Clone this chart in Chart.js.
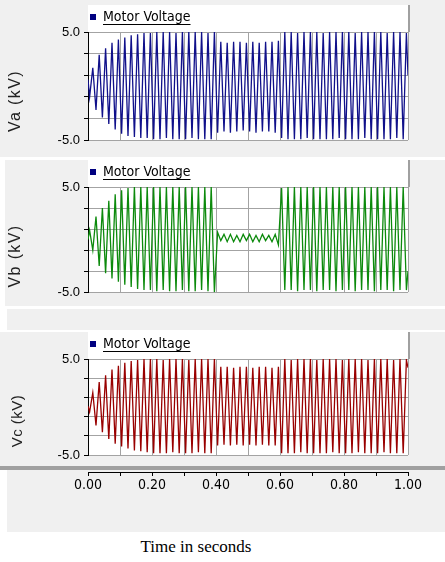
<!DOCTYPE html>
<html>
<head>
<meta charset="utf-8">
<script src="https://cdn.jsdelivr.net/npm/chart.js@4.4.0/dist/chart.umd.min.js"></script>
<style>
  body { margin: 0; background: #fff; width: 445px; height: 562px; position: relative; overflow: hidden; }
  .bg { position: absolute; background: #f0f0f0; }
  canvas { position: absolute; left: 0; }
  .ytitle { position: absolute; font-family: 'Liberation Sans', Arial, sans-serif; color: #222;
            transform: translate(-50%, -50%) rotate(-90deg); white-space: nowrap; }
  #xtitle { position: absolute; left: 196px; top: 547px; transform: translate(-50%, -50%);
            font-family: 'Liberation Serif', 'Times New Roman', serif; font-size: 17px; color: #000; white-space: nowrap; }
</style>
</head>
<body>
<div class="bg" style="left:0;top:0;width:445px;height:157px"></div>
<div class="bg" style="left:5px;top:160px;width:440px;height:146px"></div>
<div class="bg" style="left:7px;top:309px;width:438px;height:21px"></div>
<div class="bg" style="left:0;top:332px;width:445px;height:134px"></div>
<div class="bg" style="left:0;top:466px;width:445px;height:4px;background:#a0a0a0"></div>
<div class="bg" style="left:7px;top:470px;width:438px;height:62px"></div>

<canvas id="chartVa" width="445" height="152" style="top:0"></canvas>
<canvas id="chartVb" width="445" height="146" style="top:158px"></canvas>
<canvas id="chartVc" width="445" height="137" style="top:330px"></canvas>
<canvas id="chartTime" width="445" height="42" style="top:458px"></canvas>

<div class="ytitle" style="left:15px;top:101px;font-size:16px;letter-spacing:1.4px">Va (kV)</div>
<div class="ytitle" style="left:15px;top:256px;font-size:16px;letter-spacing:1.4px">Vb (kV)</div>
<div class="ytitle" style="left:16px;top:421px;font-size:15px;letter-spacing:0.5px">Vc (kV)</div>
<div id="xtitle">Time in seconds</div>

<script>
// sample times (s) of the extremes
const timeSec = [0,
  0.005, 0.015, 0.025, 0.035, 0.045, 0.055, 0.065, 0.075, 0.085, 0.095,
  0.105, 0.115, 0.125, 0.135, 0.145, 0.155, 0.165, 0.175, 0.185, 0.195,
  0.205, 0.215, 0.225, 0.235, 0.245, 0.255, 0.265, 0.275, 0.285, 0.295,
  0.305, 0.315, 0.325, 0.335, 0.345, 0.355, 0.365, 0.375, 0.385, 0.395,
  0.405, 0.415, 0.425, 0.435, 0.445, 0.455, 0.465, 0.475, 0.485, 0.495,
  0.505, 0.515, 0.525, 0.535, 0.545, 0.555, 0.565, 0.575, 0.585, 0.595,
  0.605, 0.615, 0.625, 0.635, 0.645, 0.655, 0.665, 0.675, 0.685, 0.695,
  0.705, 0.715, 0.725, 0.735, 0.745, 0.755, 0.765, 0.775, 0.785, 0.795,
  0.805, 0.815, 0.825, 0.835, 0.845, 0.855, 0.865, 0.875, 0.885, 0.895,
  0.905, 0.915, 0.925, 0.935, 0.945, 0.955, 0.965, 0.975, 0.985, 0.995,
  1];

// motor voltage, phase a (kV)
const va = [0.6,
  -1.0, 1.7, -2.2, 2.9, -2.9, 3.5, -3.5, 4.0, -4.0, 4.3,
  -4.4, 4.5, -4.6, 4.7, -4.7, 4.8, -4.8, 4.9, -4.8, 4.9,
  -4.9, 5.0, -4.9, 5.0, -4.8, 5.0, -4.9, 4.9, -4.9, 5.0,
  -4.9, 5.0, -4.8, 5.0, -4.9, 5.0, -4.9, 4.9, -4.9, 5.0,
  -4.3, 4.1, -4.2, 4.0, -4.3, 4.1, -4.2, 4.1, -4.1, 4.0,
  -4.2, 4.1, -4.3, 4.0, -4.2, 4.1, -4.2, 4.1, -4.3, 4.2,
  -4.8, 5.0, -4.9, 5.0, -4.9, 4.9, -4.9, 5.0, -4.8, 5.0,
  -4.9, 5.0, -4.9, 4.9, -4.9, 5.0, -4.9, 5.0, -4.8, 5.0,
  -4.9, 5.0, -4.9, 4.9, -4.9, 5.0, -4.8, 5.0, -4.9, 5.0,
  -4.9, 5.0, -4.9, 4.9, -4.9, 5.0, -4.8, 5.0, -4.9, 4.9,
  1.0];

// motor voltage, phase b (kV) - open between 0.4 s and 0.6 s
const vb = [0.0,
  0.9, -1.0, 2.2, -2.5, 3.0, -3.2, 3.7, -3.7, 4.3, -4.0,
  4.7, -4.3, 4.9, -4.5, 5.0, -4.7, 5.0, -4.8, 5.0, -4.8,
  5.0, -4.9, 5.0, -4.8, 5.0, -4.9, 5.0, -4.9, 5.0, -4.8,
  5.0, -4.9, 5.0, -4.9, 5.0, -4.8, 5.0, -4.9, 5.0, -5.0,
  0.7, -0.1, 0.5, -0.2, 0.5, -0.2, 0.4, -0.2, 0.5, -0.1,
  0.5, -0.2, 0.4, -0.2, 0.5, -0.1, 0.4, -0.2, 0.5, -0.5,
  4.9, -4.8, 5.0, -4.8, 5.0, -4.9, 5.0, -4.8, 5.0, -4.8,
  5.0, -4.9, 5.0, -4.8, 5.0, -4.8, 5.0, -4.9, 5.0, -4.8,
  5.0, -4.8, 5.0, -4.9, 5.0, -4.8, 5.0, -4.8, 5.0, -4.9,
  5.0, -4.8, 5.0, -4.8, 5.0, -4.9, 5.0, -4.8, 5.0, -4.8,
  -3.0];

// motor voltage, phase c (kV)
const vc = [0.1,
  -0.5, 1.5, -1.9, 2.6, -2.6, 3.3, -3.3, 3.9, -3.8, 4.3,
  -4.1, 4.6, -4.3, 4.8, -4.5, 4.9, -4.6, 5.0, -4.7, 5.0,
  -4.8, 5.0, -4.8, 4.9, -4.8, 5.0, -4.7, 5.0, -4.8, 5.0,
  -4.8, 4.9, -4.8, 5.0, -4.7, 5.0, -4.8, 5.0, -4.8, 5.0,
  -4.0, 4.2, -3.9, 4.2, -4.0, 4.1, -3.9, 4.2, -4.0, 4.2,
  -3.9, 4.1, -4.0, 4.2, -3.9, 4.2, -4.0, 4.1, -4.0, 4.2,
  -4.8, 5.0, -4.8, 4.9, -4.8, 5.0, -4.7, 5.0, -4.8, 5.0,
  -4.8, 4.9, -4.8, 5.0, -4.8, 5.0, -4.7, 5.0, -4.8, 4.9,
  -4.8, 5.0, -4.8, 5.0, -4.7, 5.0, -4.8, 4.9, -4.8, 5.0,
  -4.8, 5.0, -4.7, 5.0, -4.8, 4.9, -4.8, 5.0, -4.8, 4.9,
  4.1];

const yTickLabels = { '5': '5.0', '-5': '-5.0' };
const xTickLabels = ['0.00', '0.20', '0.40', '0.60', '0.80', '1.00'];

const SANS = "'Liberation Sans', Arial, sans-serif";
const NARROW = "'DejaVu Sans Condensed', 'Liberation Sans', sans-serif";
const GRID = '#a3a3a3';

// white panel behind legend + plot, and the underline under the legend text
const panelBox = {
  id: 'panelBox',
  beforeDraw(chart) {
    const { ctx, chartArea: a, legend } = chart;
    const top = legend.top - 3;
    ctx.save();
    ctx.fillStyle = '#fff';
    ctx.fillRect(a.left, top, a.right - a.left, a.bottom - top);
    ctx.strokeStyle = '#a0a0a0';
    ctx.lineWidth = 2;
    ctx.beginPath();
    ctx.moveTo(a.right + 1, top);
    ctx.lineTo(a.right + 1, a.top);
    ctx.stroke();
    ctx.restore();
  },
  afterDraw(chart) {
    const hb = chart.legend.legendHitBoxes[0];
    if (!hb) return;
    const ctx = chart.ctx;
    const y = Math.round(hb.top + hb.height / 2 + 7) + 0.5;
    ctx.save();
    ctx.strokeStyle = '#000';
    ctx.lineWidth = 1;
    ctx.beginPath();
    ctx.moveTo(hb.left + 6 + 7, y);
    ctx.lineTo(hb.left + hb.width, y);
    ctx.stroke();
    ctx.restore();
  }
};

function makePanel(id, values, color, padTop) {
  return new Chart(document.getElementById(id), {
    type: 'line',
    data: {
      datasets: [{
        label: 'Motor Voltage',
        data: timeSec.map((t, i) => ({ x: t, y: values[i] })),
        borderColor: color,
        borderWidth: 1.3,
        pointRadius: 0,
        tension: 0
      }]
    },
    options: {
      responsive: false,
      animation: false,
      layout: { padding: { top: padTop, bottom: 1, left: 0, right: 37 } },
      plugins: {
        tooltip: { enabled: false },
        legend: {
          position: 'top',
          align: 'start',
          fullSize: false,
          maxHeight: 24,
          labels: {
            boxWidth: 6,
            boxHeight: 6,
            padding: 2,
            color: '#000',
            font: { family: NARROW, size: 14 },
            generateLabels: () => [{
              text: 'Motor Voltage', fillStyle: '#000080', strokeStyle: '#000080',
              lineWidth: 0, fontColor: '#000', hidden: false, datasetIndex: 0
            }]
          }
        }
      },
      scales: {
        x: {
          type: 'linear', min: 0, max: 1,
          ticks: { display: false, stepSize: 0.1 },
          grid: { color: GRID, drawTicks: false },
          border: { display: false },
          afterFit: s => { s.height = 10; }
        },
        y: {
          min: -5, max: 5,
          ticks: {
            stepSize: 1, padding: 4, color: '#000',
            font: { family: SANS, size: 13 },
            callback: v => yTickLabels[v] || ''
          },
          grid: { color: GRID, tickColor: '#000', tickLength: 4 },
          border: { color: '#000', width: 1 },
          afterFit: s => { s.width = 88; }
        }
      }
    },
    plugins: [panelBox]
  });
}

makePanel('chartVa', va, '#10108a', 8);
makePanel('chartVb', vb, '#0c8a0c', 5);
makePanel('chartVc', vc, '#990000', 5);

// shared time axis under the three panels
new Chart(document.getElementById('chartTime'), {
  type: 'line',
  data: { datasets: [] },
  options: {
    responsive: false,
    animation: false,
    layout: { padding: { top: 0, bottom: 0, left: 88, right: 37 } },
    plugins: { legend: { display: false }, tooltip: { enabled: false } },
    scales: {
      x: {
        type: 'linear', min: 0, max: 1, position: 'bottom',
        ticks: {
          stepSize: 0.1, autoSkip: false, maxRotation: 0, padding: 1, color: '#000',
          font: { family: NARROW, size: 14 },
          callback: (v, i) => (i % 2 === 0 ? xTickLabels[i / 2] : '')
        },
        grid: { drawOnChartArea: false, tickLength: 4, tickColor: '#000' },
        border: { display: true, color: '#000', width: 1 },
        afterFit: s => { s.height = 28; }
      },
      y: { display: false, min: -5, max: 5 }
    }
  }
});
</script>
</body>
</html>
